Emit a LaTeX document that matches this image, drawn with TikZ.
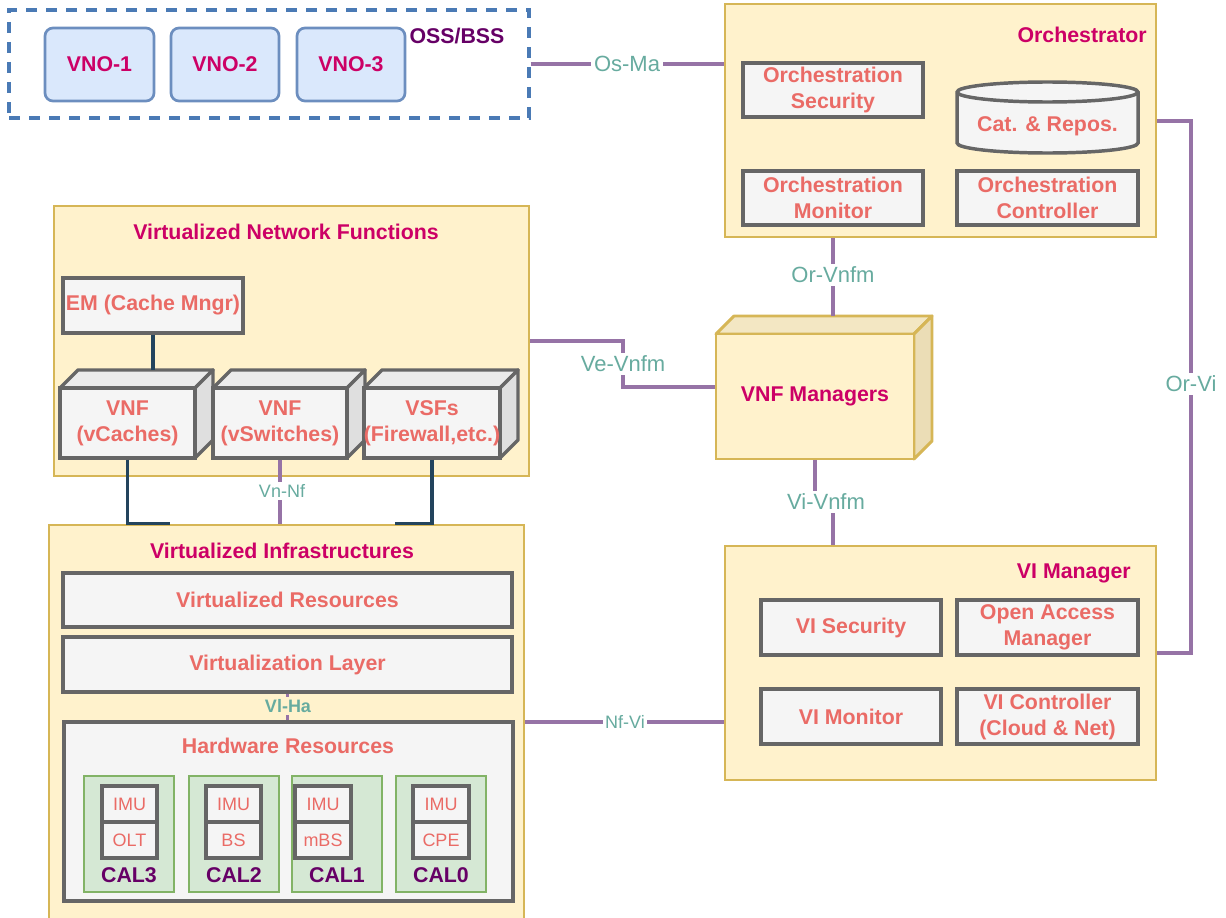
\documentclass[tikz,border=0pt]{standalone}
\usepackage{fontspec}
\setmainfont{Liberation Sans}
\definecolor{ylwF}{HTML}{FFF2CC}
\definecolor{ylwD}{HTML}{D6B656}
\definecolor{gryF}{HTML}{F5F5F5}
\definecolor{gryD}{HTML}{666666}
\definecolor{grnF}{HTML}{D5E8D4}
\definecolor{grnD}{HTML}{82B366}
\definecolor{bluF}{HTML}{DAE8FC}
\definecolor{bluD}{HTML}{6C8EBF}
\definecolor{dashB}{HTML}{4A7AB5}
\definecolor{ttlC}{HTML}{CC0066}
\definecolor{salC}{HTML}{EA6B66}
\definecolor{tealC}{HTML}{67AB9F}
\definecolor{plumC}{HTML}{660066}
\definecolor{purL}{HTML}{9673A6}
\definecolor{navyL}{HTML}{23445D}
\definecolor{gTop}{HTML}{EBEBEB}
\definecolor{gSide}{HTML}{DFDFDF}
\definecolor{yTop}{HTML}{F3E7C3}
\definecolor{ySide}{HTML}{EBDDB6}

\newcommand\bigfont{\fontsize{16}{19.5}\selectfont\bfseries}
\newcommand\lblfont{\fontsize{16.5}{19.5}\selectfont}
\newcommand\smallfont{\fontsize{13.5}{16}\selectfont}

\tikzset{
  every node/.style={inner sep=0pt, align=center},
  ylwbox/.style={fill=ylwF, draw=ylwD, line width=2.2pt},
  grybox/.style={fill=gryF, draw=gryD, line width=2.6pt, text=salC, font=\bigfont},
  grnbox/.style={fill=grnF, draw=grnD, line width=2.2pt},
  vnobox/.style={fill=bluF, draw=bluD, line width=2pt, rounded corners=6pt, text=ttlC, font=\bigfont},
  imubox/.style={fill=gryF, draw=gryD, line width=2.4pt, text=salC, font=\smallfont},
  ttl/.style={text=ttlC, font=\bigfont},
  plum/.style={text=plumC, font=\bigfont},
  lbl/.style={text=tealC, font=\lblfont, fill=white, inner sep=2pt},
  slbl/.style={text=tealC, font=\smallfont, fill=white, inner sep=1.5pt},
  pline/.style={draw=purL, line width=2.7pt},
  nline/.style={draw=navyL, line width=2.5pt},
  gtop/.style={fill=gTop, draw=gryD, line width=2.6pt, line join=round},
  gside/.style={fill=gSide, draw=gryD, line width=2.6pt, line join=round},
  ytop/.style={fill=yTop, draw=ylwD, line width=2.2pt, line join=round},
  yside/.style={fill=ySide, draw=ylwD, line width=2.2pt, line join=round},
}

% box given by its corners (pixel grid): name, x1, y1, x2, y2, style, text
\newcommand\mkbox[7]{%
  \pgfmathsetmacro\bxcx{(#2+#4)/2}%
  \pgfmathsetmacro\bxcy{(#3+#5)/2}%
  \pgfmathsetmacro\bxw{(#4-#2)*0.75}%
  \pgfmathsetmacro\bxh{(#5-#3)*0.75}%
  \node[#6, minimum width=\bxw pt, minimum height=\bxh pt] (#1) at (\bxcx,\bxcy) {#7};}

% 3D box: name, x1, y1, x2, y2 (outer bounds), face prefix, front style, text
\newcommand\mkcube[8]{%
  \pgfmathsetmacro\cbA{#2+18}%
  \pgfmathsetmacro\cbB{#3+18}%
  \pgfmathsetmacro\cbC{#4-18}%
  \pgfmathsetmacro\cbD{#5-18}%
  \filldraw[#6top] (#2,\cbB) -- (\cbA,#3) -- (#4,#3) -- (\cbC,\cbB) -- cycle;
  \filldraw[#6side] (\cbC,\cbB) -- (#4,#3) -- (#4,\cbD) -- (\cbC,#5) -- cycle;
  \mkbox{#1}{#2}{\cbB}{\cbC}{#5}{#7}{#8}%
  \pgfmathsetmacro\cbE{(#2+#4)/2}%
  \coordinate (#1-top) at (\cbE,#3);}

\begin{document}
\begin{tikzpicture}[x=0.75pt, y=-0.75pt]
\clip (0,0) rectangle (1226,917);
\fill[white] (0,0) rectangle (1226,917);

% ---------- OSS/BSS ----------
\mkbox{oss}{9}{10}{529}{118}{draw=dashB, line width=2.5pt, dash pattern=on 8.5pt off 6.5pt}{}
\mkbox{vno1}{45}{28}{154}{101}{vnobox}{VNO-1}
\mkbox{vno2}{171}{28}{279}{101}{vnobox}{VNO-2}
\mkbox{vno3}{297}{28}{405}{101}{vnobox}{VNO-3}
\node[plum] (ossT) at (457,36) {OSS/BSS};

% ---------- Orchestrator ----------
\mkbox{orch}{725}{4}{1156}{237}{ylwbox}{}
\node[ttl, anchor=east] (orchT) at (1147,35) {Orchestrator};
\mkbox{osec}{743}{63}{923}{117}{grybox}{Orchestration\\Security}
\mkbox{omon}{743}{171}{923}{225}{grybox}{Orchestration\\Monitor}
\mkbox{octl}{957}{171}{1138}{225}{grybox}{Orchestration\\Controller}
\filldraw[fill=gryF, draw=gryD, line width=2.6pt]
  (957,92) -- (957,143) arc[start angle=180, end angle=360, x radius=67.875pt, y radius=7.5pt]
  -- (1138,92) arc[start angle=0, end angle=180, x radius=67.875pt, y radius=7.5pt] -- cycle;
\draw[gryD, line width=2.6pt]
  (957,92) arc[start angle=180, end angle=360, x radius=67.875pt, y radius=7.5pt];
\node[text=salC, font=\bigfont] (cat) at (1047.5,126) {Cat. \& Repos.};

% ---------- Virtualized Network Functions ----------
\mkbox{vnfbox}{54}{206}{529}{476}{ylwbox}{}
\node[ttl] (vnfT) at (286,232) {Virtualized Network Functions};
\mkbox{em}{63}{278}{243}{333}{grybox}{EM (Cache Mngr)}
\mkcube{vc}{60}{370}{213}{458}{g}{grybox}{VNF\\(vCaches)}
\mkcube{vs}{213}{370}{365}{458}{g}{grybox}{VNF\\(vSwitches)}
\mkcube{vf}{364}{370}{518}{458}{g}{grybox}{VSFs\\(Firewall,etc.)}

% ---------- VNF Managers ----------
\mkcube{vnfm}{716}{316}{932}{459}{y}{ylwbox, ttl}{VNF Managers}

% ---------- Virtualized Infrastructures ----------
\mkbox{vi}{49}{525}{524}{935}{ylwbox}{}
\node[ttl] (viT) at (282,551) {Virtualized Infrastructures};
\mkbox{vres}{63}{573}{512}{627}{grybox}{Virtualized Resources}
\mkbox{vlay}{63}{637}{512}{692}{grybox}{Virtualization Layer}
\mkbox{hw}{64}{722}{513}{901}{grybox}{}
\node[text=salC, font=\bigfont] (hwT) at (288,746) {Hardware Resources};

\mkbox{cal3}{84}{776}{174}{892}{grnbox}{}
\mkbox{cal2}{189}{776}{279}{892}{grnbox}{}
\mkbox{cal1}{292}{776}{382}{892}{grnbox}{}
\mkbox{cal0}{396}{776}{486}{892}{grnbox}{}
\mkbox{imu3}{102}{786}{157}{822}{imubox}{IMU}
\mkbox{olt}{102}{822}{157}{858}{imubox}{OLT}
\mkbox{imu2}{206}{786}{261}{822}{imubox}{IMU}
\mkbox{bs}{206}{822}{261}{858}{imubox}{BS}
\mkbox{imu1}{295}{786}{351}{822}{imubox}{IMU}
\mkbox{mbs}{295}{822}{351}{858}{imubox}{mBS}
\mkbox{imu0}{413}{786}{469}{822}{imubox}{IMU}
\mkbox{cpe}{413}{822}{469}{858}{imubox}{CPE}
\node[plum] (cal3T) at (129,875) {CAL3};
\node[plum] (cal2T) at (234,875) {CAL2};
\node[plum] (cal1T) at (337,875) {CAL1};
\node[plum] (cal0T) at (441,875) {CAL0};

% ---------- VI Manager ----------
\mkbox{vim}{725}{546}{1156}{780}{ylwbox}{}
\node[ttl, anchor=east] (vimT) at (1131,573) {VI Manager};
\mkbox{visec}{761}{600}{941}{655}{grybox}{VI Security}
\mkbox{oam}{957}{600}{1138}{655}{grybox}{Open Access\\Manager}
\mkbox{vimon}{761}{689}{941}{744}{grybox}{VI Monitor}
\mkbox{victl}{957}{689}{1138}{744}{grybox}{VI Controller\\(Cloud \& Net)}

% ---------- reference points ----------
\coordinate (vej) at (623,387);
\coordinate (orvn) at (833,275);
\coordinate (vij1) at (815,502);
\coordinate (vij2) at (833,502);
\coordinate (orviA) at (1191,121);
\coordinate (orviB) at (1191,653);
\coordinate (nfvi) at (625,722);

% ---------- connectors ----------
\draw[nline] (em.south) -- (em.south |- vc-top);
\draw[nline] (vc.south) -- (vc.south |- vi.north) -- ++(42,0);
\draw[nline] (vf.south) -- (vf.south |- vi.north) -- ++(-37,0);
\draw[pline] (vs.south) -- (vs.south |- vi.north);
\draw[pline] (oss.east) -- (oss.east -| orch.west);
\draw[pline] (vnfbox.east) -| (vej) -- (vej -| vnfm.west);
\draw[pline] (orvn |- orch.south) -- (orvn |- vnfm-top);
\draw[pline] (vnfm.south) -- (vij1) -- (vij2) -- (vij2 |- vim.north);
\draw[pline] (orviA -| orch.east) -- (orviA) -- (orviB) -- (orviB -| vim.east);
\draw[pline] (nfvi -| vi.east) -- (nfvi -| vim.west);
\draw[purL, line width=2pt] (vlay.south) -- (vlay.south |- hw.north);

% ---------- interface labels ----------
\node[lbl] (osmaL) at (627,64) {Os-Ma};
\node[lbl] (orvnL) at (orvn) {Or-Vnfm};
\node[lbl] (vevnL) at (623,364) {Ve-Vnfm};
\node[lbl] (vivnL) at (826,502) {Vi-Vnfm};
\node[lbl] (orviL) at (1191,384) {Or-Vi};
\node[slbl] (vnnfL) at (282,491) {Vn-Nf};
\node[slbl] (nfviL) at (nfvi) {Nf-Vi};
\node[slbl, fill=ylwF, font=\smallfont\bfseries] (vlhaL) at (288,706) {Vl-Ha};
\end{tikzpicture}
\end{document}
